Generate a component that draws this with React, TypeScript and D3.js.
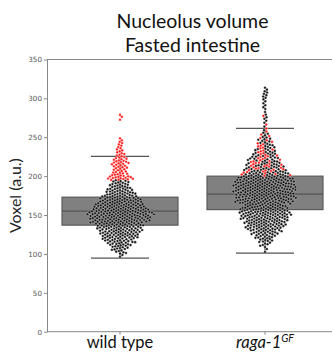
import { useEffect, useRef } from 'react';
import * as d3 from 'd3';

const groups = ['wild type', 'raga-1'];

// histogram of values, 5-unit bins starting at binStart
const binStart = 95;
const binSize = 5;
// wild type: counts per bin (black, red)
const wtBlack = [2, 6, 9, 13, 16, 20, 22, 24, 26, 31, 33, 35, 31, 28, 24, 21, 17, 14, 11, 9, 0, 0, 0, 0, 0, 0, 0, 0, 0, 0, 0, 0, 0, 0, 0, 0];
const wtRed = [0, 0, 0, 0, 0, 0, 0, 0, 0, 0, 0, 0, 0, 0, 0, 0, 0, 0, 0, 0, 14, 9, 7, 8, 9, 7, 5, 4, 3, 3, 2, 0, 0, 0, 0, 1, 2];
// raga-1: counts per bin
const rgBlack = [0, 1, 2, 5, 8, 11, 15, 19, 22, 24, 26, 28, 27, 23, 30, 31, 32, 34, 34, 32, 30, 21, 15, 13, 11, 10, 9, 7, 6, 5, 5, 3, 2, 1, 1, 2, 2, 1, 2, 2, 2, 3, 3, 2];
const rgRed = [0, 0, 0, 0, 0, 0, 0, 0, 0, 0, 0, 0, 0, 0, 0, 0, 0, 0, 0, 0, 0, 6, 8, 8, 7, 6, 5, 4, 4, 3, 2, 2, 1, 1, 1, 0, 1, 0, 0, 0, 0, 0, 0, 0];

// box stats: [whiskerLow, q1, median, q3, whiskerHigh]
const boxStats = [
  [94.5, 137, 155, 173, 225.5],
  [101, 157, 177, 200, 261.5],
];

const yTicks = [0, 50, 100, 150, 200, 250, 300, 350];

type Pt = { v: number; red: boolean; g: number; x?: number };

function expand(black: number[], red: number[], g: number): Pt[] {
  const pts: Pt[] = [];
  const n = Math.max(black.length, red.length);
  for (let b = 0; b < n; b++) {
    const nb = black[b] || 0;
    const nr = red[b] || 0;
    const tot = nb + nr;
    let rPlaced = 0;
    for (let i = 0; i < tot; i++) {
      const v = binStart + b * binSize + ((i + 0.5) * binSize) / tot;
      // spread the red ones evenly among the bin
      const wantRed = Math.round(((i + 1) * nr) / tot) > rPlaced;
      if (wantRed) rPlaced++;
      pts.push({ v, red: wantRed, g });
    }
  }
  return pts;
}

function swarm(pts: { y: number; x?: number }[], d: number) {
  const placed: { x: number; y: number }[] = [];
  const sorted = [...pts].sort((a, b) => a.y - b.y);
  for (const p of sorted) {
    const near = placed.filter((q) => Math.abs(q.y - p.y) < d);
    const cands = [0];
    for (const q of near) {
      const dx = Math.sqrt(d * d - (q.y - p.y) ** 2);
      cands.push(q.x + dx + 0.01, q.x - dx - 0.01);
    }
    cands.sort((a, b) => Math.abs(a) - Math.abs(b));
    let best = 0;
    for (const c of cands) {
      const ok = near.every((q) => (q.x - c) ** 2 + (q.y - p.y) ** 2 >= d * d - 0.001);
      if (ok) {
        best = c;
        break;
      }
    }
    p.x = best;
    placed.push({ x: best, y: p.y });
  }
}

const App = () => {
  const svgRef = useRef<SVGSVGElement>(null);

  useEffect(() => {
    const width = 332;
    const height = 353;
    const left = 47.5;
    const right = 337.5;
    const top = 59.5;
    const bottom = 331.7;

    const svg = d3.select(svgRef.current)
      .attr('width', width)
      .attr('height', height)
      .style('display', 'block');
    svg.selectAll('*').remove();

    const x = d3.scaleBand().domain(groups).range([left, right]).paddingInner(0).paddingOuter(0);
    const y = d3.scaleLinear().domain([0, 350]).range([bottom, top]);
    const bw = x.bandwidth() * 0.8;
    const cx = (g: string) => x(g)! + x.bandwidth() / 2;

    // boxes
    groups.forEach((g, i) => {
      const [lo, q1, med, q3, hi] = boxStats[i];
      const c = cx(g);
      const gr = svg.append('g');
      gr.append('line').attr('x1', c).attr('x2', c).attr('y1', y(q3)).attr('y2', y(hi)).attr('stroke', '#555').attr('stroke-width', 1.2);
      gr.append('line').attr('x1', c).attr('x2', c).attr('y1', y(q1)).attr('y2', y(lo)).attr('stroke', '#555').attr('stroke-width', 1.2);
      gr.append('line').attr('x1', c - bw / 4).attr('x2', c + bw / 4).attr('y1', y(hi)).attr('y2', y(hi)).attr('stroke', '#555').attr('stroke-width', 1.2);
      gr.append('line').attr('x1', c - bw / 4).attr('x2', c + bw / 4).attr('y1', y(lo)).attr('y2', y(lo)).attr('stroke', '#555').attr('stroke-width', 1.2);
      gr.append('rect').attr('x', c - bw / 2).attr('y', y(q3)).attr('width', bw).attr('height', y(q1) - y(q3))
        .attr('fill', '#808080').attr('stroke', '#5a5a5a').attr('stroke-width', 1.2);
      gr.append('line').attr('x1', c - bw / 2).attr('x2', c + bw / 2).attr('y1', y(med)).attr('y2', y(med)).attr('stroke', '#555').attr('stroke-width', 1.2);
    });

    // swarms
    const sets = [expand(wtBlack, wtRed, 0), expand(rgBlack, rgRed, 1)];
    sets.forEach((pts, i) => {
      const c = cx(groups[i]);
      const sp = pts.map((p) => ({ ...p, y: y(p.v) }));
      swarm(sp, 2.7);
      svg.append('g').selectAll('circle').data(sp).join('circle')
        .attr('cx', (d) => c + (d.x || 0))
        .attr('cy', (d) => d.y)
        .attr('r', 1.3)
        .attr('fill', (d) => (d.red ? '#ff1a1a' : '#111'))
        .attr('stroke', '#fff')
        .attr('stroke-width', 0.3);
    });

    // spines
    svg.append('rect').attr('x', left).attr('y', top).attr('width', right - left).attr('height', bottom - top)
      .attr('fill', 'none').attr('stroke', '#888').attr('stroke-width', 1);

    // y axis
    const ya = svg.append('g').attr('transform', `translate(${left},0)`)
      .call(d3.axisLeft(y).tickValues(yTicks).tickSize(3.5).tickPadding(2));
    ya.select('.domain').remove();
    ya.selectAll('line').attr('stroke', '#888');
    ya.selectAll('text').attr('fill', '#555').attr('font-size', 7.2).attr('font-family', 'DejaVu Sans');

    // x ticks
    groups.forEach((g) => {
      svg.append('line').attr('x1', cx(g)).attr('x2', cx(g)).attr('y1', bottom).attr('y2', bottom + 3).attr('stroke', '#888');
    });

    const font = 'Lato, "Open Sans", sans-serif';
    svg.append('text').attr('x', cx(groups[0])).attr('y', 347.5).attr('text-anchor', 'middle')
      .attr('font-family', font).attr('font-size', 16.5).attr('fill', '#111').text('wild type');
    const t2 = svg.append('text').attr('x', cx(groups[1])).attr('y', 347.5).attr('text-anchor', 'middle')
      .attr('font-family', font).attr('font-size', 16.5).attr('fill', '#111');
    t2.append('tspan').attr('font-style', 'italic').text('raga-1');
    t2.append('tspan').attr('font-style', 'italic').attr('font-size', 10.5).attr('dy', -6).text('GF');

    svg.append('text').attr('transform', `translate(21,${(top + bottom) / 2}) rotate(-90)`).attr('text-anchor', 'middle')
      .attr('font-family', font).attr('font-size', 16).attr('fill', '#222').text('Voxel (a.u.)');

    svg.append('text').attr('x', (left + right) / 2).attr('y', 28).attr('text-anchor', 'middle')
      .attr('font-family', font).attr('font-size', 19.5).attr('fill', '#111').text('Nucleolus volume');
    svg.append('text').attr('x', (left + right) / 2).attr('y', 52).attr('text-anchor', 'middle')
      .attr('font-family', font).attr('font-size', 19.5).attr('fill', '#111').text('Fasted intestine');
  }, []);

  return <svg ref={svgRef}></svg>;
};

export default function Root() {
  return (
    <div style={{ position: 'absolute', left: 0, top: 0 }}>
      <App />
    </div>
  );
}
